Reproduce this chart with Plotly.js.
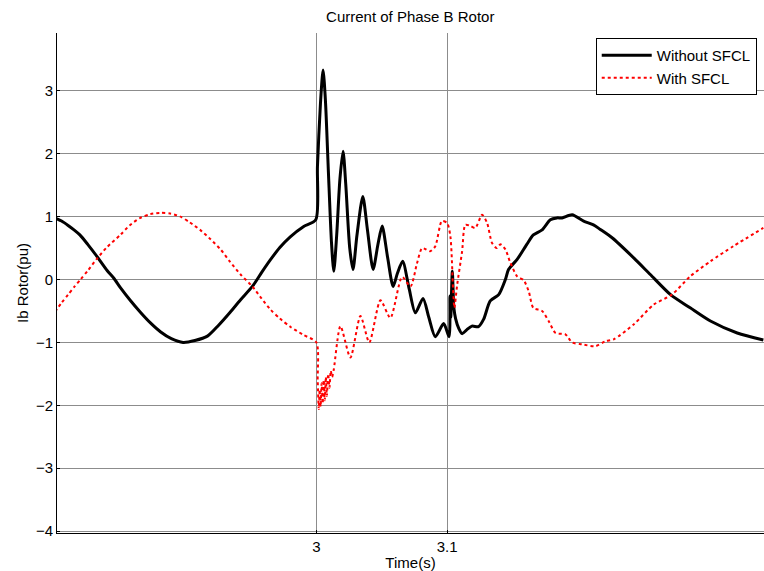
<!DOCTYPE html>
<html>
<head>
<meta charset="utf-8">
<script src="https://cdn.plot.ly/plotly-3.0.1.min.js"></script>
<style>html,body{margin:0;padding:0;background:#fff;}#chart{width:764px;height:571px;}</style>
</head>
<body>
<div id="chart"></div>
<script>
// Time (s) and Ib rotor current (pu)
const tWithout = [2.800,2.805,2.810,2.8145,2.819,2.825,2.832,2.840,2.845,2.850,2.8575,2.8653,2.873,2.8806,2.889,2.898,2.907,2.9166,2.925,2.934,2.942,2.951,2.958,2.965,2.972,2.980,2.990,2.9995,
3.0008,3.0031,3.0051,3.0069,3.0092,3.0115,3.0133,3.0155,3.018,3.0204,3.0225,3.0255,3.028,3.031,3.0355,3.039,3.0434,3.047,3.0503,3.0545,3.0587,3.062,3.066,3.071,3.0757,3.0816,3.086,3.091,3.0974,3.1015,3.1022,3.1028,3.1040,3.1052,3.1065,3.109,3.1115,3.115,3.119,3.124,3.128,3.133,3.1395,3.1446,3.147,3.1536,3.161,3.166,3.1727,3.179,3.184,3.188,3.1957,3.2045,3.212,3.217,3.2265,3.243,3.2555,3.271,3.286,3.3015,3.322,3.342];
const ibWithout = [0.98,0.93,0.86,0.79,0.71,0.56,0.37,0.14,0.02,-0.13,-0.33,-0.52,-0.69,-0.83,-0.94,-1.0,-0.97,-0.90,-0.73,-0.52,-0.32,-0.11,0.11,0.32,0.51,0.68,0.84,0.95,
1.8,2.8,3.33,2.85,1.7,0.6,0.13,0.7,1.6,2.04,1.5,0.5,0.16,0.7,1.32,0.8,0.16,0.55,0.85,0.35,-0.11,0.1,0.29,-0.15,-0.53,-0.30,-0.6,-0.91,-0.70,-0.91,-0.26,-0.6,0.13,-0.45,-0.62,-0.78,-0.86,-0.80,-0.74,-0.75,-0.63,-0.34,-0.24,0.0,0.16,0.32,0.56,0.71,0.79,0.95,0.98,0.98,1.03,0.93,0.87,0.80,0.66,0.34,0.08,-0.24,-0.45,-0.66,-0.85,-0.96];

const tWith = [2.800,2.805,2.810,2.815,2.8195,2.825,2.832,2.840,2.850,2.857,2.8653,2.873,2.8806,2.888,2.896,2.903,2.911,2.919,2.9266,2.934,2.942,2.951,2.958,2.965,2.972,2.980,2.990,3.000,
3.0010,3.0018,3.0025,3.0032,3.0040,3.0048,3.0056,3.0064,3.0072,3.0080,3.0090,3.0100,3.0110,3.0120,3.0133,3.0184,3.026,3.0337,3.0405,3.049,3.0566,3.0656,3.072,3.077,3.081,3.087,3.091,3.096,3.100,3.1025,3.1046,3.1056,3.1076,3.1115,3.114,3.118,3.1216,3.1268,3.1306,3.1344,3.138,3.1408,3.1446,3.148,3.1536,3.1586,3.1625,3.166,3.1727,3.1777,3.183,3.1905,3.1957,3.2033,3.2135,3.2211,3.2275,3.243,3.258,3.272,3.286,3.3015,3.319,3.342];
const ibWith = [-0.51,-0.37,-0.24,-0.11,0.0,0.14,0.33,0.52,0.71,0.86,0.98,1.04,1.06,1.05,1.0,0.91,0.79,0.64,0.48,0.28,0.08,-0.11,-0.30,-0.48,-0.62,-0.75,-0.88,-1.0,
-1.60,-2.06,-1.75,-2.02,-1.65,-1.97,-1.60,-1.92,-1.55,-1.85,-1.50,-1.72,-1.45,-1.55,-1.43,-0.74,-1.24,-0.58,-1.0,-0.33,-0.61,0.04,-0.11,0.26,0.5,0.45,0.53,0.93,0.90,0.69,-0.16,-0.45,-0.1,0.45,0.87,0.85,0.82,1.03,0.9,0.58,0.5,0.56,0.48,0.29,0.05,-0.01,-0.19,-0.45,-0.5,-0.66,-0.85,-0.87,-1.0,-1.03,-1.06,-0.98,-0.95,-0.71,-0.40,-0.24,0.05,0.29,0.53,0.82];

const xTicks = [3, 3.1];
const xTickText = ['3', '3.1'];
const yTicks = [-4, -3, -2, -1, 0, 1, 2, 3];
const seriesNames = ['Without SFCL', 'With SFCL'];

const font = {family: 'Liberation Sans, Arial, sans-serif', size: 15, color: '#000'};

const traces = [
  {x: tWithout, y: ibWithout, type: 'scatter', mode: 'lines', name: seriesNames[0],
   line: {color: '#000000', width: 3, shape: 'spline', smoothing: 0.7}},
  {x: tWith, y: ibWith, type: 'scatter', mode: 'lines', name: seriesNames[1],
   line: {color: '#ff0000', width: 2, dash: 'dot', shape: 'spline', smoothing: 0.7}}
];

const layout = {
  width: 764, height: 571,
  margin: {l: 57, r: 0, t: 33, b: 38, pad: 0},
  paper_bgcolor: '#fff', plot_bgcolor: '#fff',
  font: font,
  title: {text: 'Current of Phase B Rotor', font: {family: font.family, size: 15, color: '#000'}, x: 0.537, xanchor: 'center', y: 0.970, yanchor: 'middle'},
  showlegend: true,
  legend: {x: 0.762, y: 0.99, xanchor: 'left', yanchor: 'top', bgcolor: '#fff', bordercolor: '#000', borderwidth: 1,
           font: {family: font.family, size: 15, color: '#000'}, tracegroupgap: 0, itemwidth: 50},
  xaxis: {
    range: [2.8015, 3.3425], tickvals: xTicks, ticktext: xTickText,
    showgrid: true, gridcolor: '#8c8c8c', gridwidth: 1, zeroline: false,
    showline: true, linecolor: '#000', linewidth: 1, ticks: 'inside', ticklen: 3, tickcolor: '#000',
    tickfont: font,
    title: {text: 'Time(s)', font: font, standoff: 5}
  },
  yaxis: {
    range: [-4.03, 3.92], tickvals: yTicks,
    showgrid: true, gridcolor: '#8c8c8c', gridwidth: 1, zeroline: false,
    showline: true, linecolor: '#000', linewidth: 1, ticks: 'inside', ticklen: 3, tickcolor: '#000',
    tickfont: font,
    title: {text: 'Ib Rotor(pu)', font: font, standoff: 3}
  }
};

Plotly.newPlot('chart', traces, layout, {displayModeBar: false, staticPlot: true});
</script>
</body>
</html>
